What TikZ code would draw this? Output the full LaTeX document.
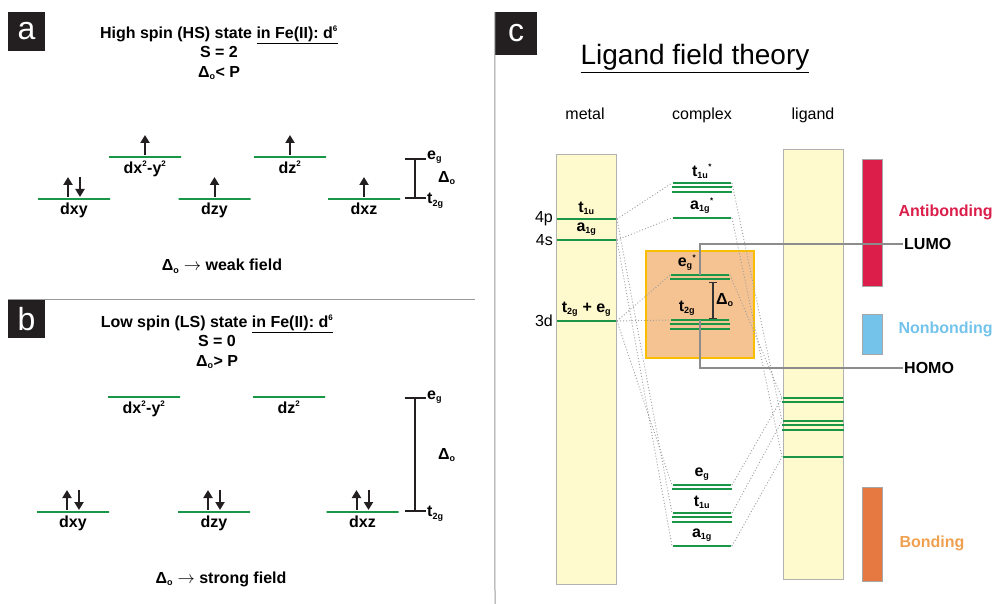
\documentclass[tikz,border=0pt]{standalone}
\usepackage{fontspec}
\setmainfont{Liberation Sans}
\usepackage{xcolor}
\usetikzlibrary{arrows.meta}

\definecolor{lvgreen}{RGB}{25,150,70}
\definecolor{tagblack}{RGB}{35,31,32}
\definecolor{colyellow}{RGB}{255,250,205}
\definecolor{peach}{RGB}{245,195,145}
\definecolor{boxgold}{RGB}{250,190,0}
\definecolor{abred}{RGB}{220,30,75}
\definecolor{nbblue}{RGB}{115,195,235}
\definecolor{bdbar}{RGB}{230,120,65}
\definecolor{bdtext}{RGB}{240,160,80}

% small sub- and superscripts
\newcommand\dsub[1]{\textsubscript{\fontsize{9}{9}\selectfont#1}}
\newcommand\dsup[1]{\textsuperscript{\fontsize{8}{8}\selectfont#1}}

\begin{document}
\begin{tikzpicture}[
  x=1pt, y={(0,-1pt)},
  font=\fontsize{16}{19.5}\selectfont,
  label distance=2pt,
  bf/.style={font=\bfseries\fontsize{16}{19.5}\selectfont},
  rg/.style={font=\fontsize{16}{19.5}\selectfont, inner sep=1pt},
  orb/.style={bf, inner sep=1pt},
  lvl/.style={draw=lvgreen, line width=2pt, minimum width=#1,
    minimum height=0pt, inner sep=0pt},
  lvl/.default=72pt,
  lvline/.style={draw=lvgreen, line width=2pt},
  spin/.style={draw=tagblack, line width=2pt,
    -{Triangle[length=8pt,width=9pt]}},
  splitbar/.style={draw=tagblack, line width=2.4pt,
    {Bar[width=21pt]}-{Bar[width=21pt]}},
  smallbar/.style={draw=black!80, line width=1.3pt,
    {Bar[width=8pt]}-{Bar[width=8pt]}},
  tagbox/.style={fill=tagblack, text=white,
    font=\fontsize{32}{32}\selectfont, inner sep=0pt},
  colbox/.style={fill=colyellow, draw=gray!60, line width=0.8pt,
    minimum width=60pt, inner sep=0pt},
  bandbar/.style={draw=gray!70, line width=0.8pt, minimum width=20pt,
    inner sep=0pt},
  corr/.style={draw=gray!75, line width=0.9pt,
    dash pattern=on 1pt off 2pt},
  moline/.style={draw=gray!90, line width=1.6pt},
  sepline/.style={draw=gray!80, line width=1pt},
]
\useasboundingbox (0,0) rectangle (994,604);

% ---- panel a: high spin
\node[tagbox, minimum width=37pt, minimum height=39pt] (taga) at (26.5,31.5) {a};
\node[bf, align=center] (hstitle) at (219,53)
  {High spin (HS) state \underline{in Fe(II): d\dsup{6}}\\S = 2\\Δ\dsub{o}< P};

\node[lvl, label={[orb]below:dxy}] (hsxy) at (74,199) {};
\node[lvl, label={[orb]below:dx\dsup{2}-y\dsup{2}}] (hsx2y2) at (145,157) {};
\node[lvl, label={[orb]below:dzy}] (hszy) at (214.5,199) {};
\node[lvl, label={[orb]below:dz\dsup{2}}] (hsz2) at (290,157) {};
\node[lvl, label={[orb]below:dxz}] (hsxz) at (364,199) {};

\foreach \o in {hsx2y2,hszy,hsz2,hsxz}
  \draw[spin] ([yshift=2pt]\o.center) -- ++(0,-20);
\draw[spin] ([xshift=-6pt,yshift=2pt]hsxy.center) -- ++(0,-20);
\draw[spin] ([xshift=6pt,yshift=22pt]hsxy.center) -- ++(0,20);

\coordinate (hstop) at (415,158);
\coordinate (hsbot) at (415,199);
\draw[splitbar] (hstop) -- (hsbot);
\node[orb, anchor=west] (hseg) at (426,157) {e\dsub{g}};
\node[orb, anchor=west] (hst2g) at (426,201) {t\dsub{2g}};
\node[orb, anchor=west] (hsdelta) at (437,178) {Δ\dsub{o}};
\node[bf] (weak) at (222,266) {Δ\dsub{o} $\rightarrow$ weak field};

\draw[sepline] (8,300) -- (475,300);

% ---- panel b: low spin
\node[tagbox, minimum width=37pt, minimum height=38pt] (tagb) at (26.5,319) {b};
\node[bf, align=center] (lstitle) at (217,342)
  {Low spin (LS) state \underline{in Fe(II): d\dsup{6}}\\S = 0\\Δ\dsub{o}> P};

\node[lvl, label={[orb]below:dx\dsup{2}-y\dsup{2}}] (lsx2y2) at (144,397) {};
\node[lvl, label={[orb]below:dz\dsup{2}}] (lsz2) at (289,397) {};
\node[lvl, label={[orb]below:dxy}] (lsxy) at (73,512) {};
\node[lvl, label={[orb]below:dzy}] (lszy) at (214,512) {};
\node[lvl, label={[orb]below:dxz}] (lsxz) at (362.5,512) {};

\foreach \o in {lsxy,lszy,lsxz} {
  \draw[spin] ([xshift=-6pt,yshift=2pt]\o.center) -- ++(0,-20);
  \draw[spin] ([xshift=6pt,yshift=22pt]\o.center) -- ++(0,20);
}

\coordinate (lstop) at (415,397);
\coordinate (lsbot) at (415,512);
\draw[splitbar] (lstop) -- (lsbot);
\node[orb, anchor=west] (lseg) at (426,397) {e\dsub{g}};
\node[orb, anchor=west] (lst2g) at (426,514) {t\dsub{2g}};
\node[orb, anchor=west] (lsdelta) at (437,455) {Δ\dsub{o}};
\node[bf] (strong) at (221,579) {Δ\dsub{o} $\rightarrow$ strong field};

% ---- panel c: ligand field theory
\node[tagbox, minimum width=42pt, minimum height=43pt] (tagc) at (516,33.5) {c};
\draw[sepline] (tagc.north west) -- (495,604);
\node[anchor=base, font=\fontsize{28}{30}\selectfont] (lft) at (695,65)
  {\underline{Ligand field theory}};

\node[rg, anchor=base] (hmetal) at (585,120) {metal};
\node[rg, anchor=base] (hcomplex) at (702,120) {complex};
\node[rg, anchor=base] (hligand) at (813,120) {ligand};

\node[colbox, minimum height=430pt] (metal) at (586,369) {};
\node[colbox, minimum height=430pt] (ligand) at (813,364) {};
\node[draw=boxgold, line width=1.8pt, fill=peach, minimum width=108pt,
      minimum height=107pt, inner sep=0pt] (cbox) at (700,304.5) {};

\node[bandbar, fill=abred, minimum height=127pt] (anti) at (872,222.5) {};
\node[bandbar, fill=nbblue, minimum height=40pt] (nonb) at (872,334) {};
\node[bandbar, fill=bdbar, minimum height=94pt] (bond) at (872,534) {};
\node[bf, text=abred, anchor=west] (antil) at (895,212) {Antibonding};
\node[bf, text=nbblue, anchor=west] (nonbl) at (895,329) {Nonbonding};
\node[bf, text=bdtext, anchor=west] (bondl) at (896,543) {Bonding};

% metal levels
\node[lvl=59pt, label={[orb]above:t\dsub{1u}}, label={[rg]left:4p}] (mt1u) at (586.5,219) {};
\node[lvl=59pt, label={[orb]above:a\dsub{1g}}, label={[rg]left:4s}] (ma1g) at (586.5,240) {};
\node[lvl=59pt, label={[orb]above:t\dsub{2g} + e\dsub{g}}, label={[rg]left:3d}] (m3d) at (586.5,321) {};

% complex levels
\node[lvl=58pt, label={[orb]above:t\dsub{1u}\dsup{*}}] (ct1us) at (702,183) {};
\node[lvl=58pt, label={[orb]above:a\dsub{1g}\dsup{*}}] (ca1gs) at (702,218) {};
\node[lvl=58pt, label={[orb, xshift=-13pt]above:e\dsub{g}\dsup{*}}] (cegs) at (700,275) {};
\node[lvl=58pt, label={[orb, xshift=-13pt]above:t\dsub{2g}}] (ct2g) at (700,320) {};
\node[lvl=58pt, label={[orb]above:e\dsub{g}}] (ceg) at (702,485) {};
\node[lvl=58pt, label={[orb]above:t\dsub{1u}}] (ct1u) at (702,513) {};
\node[lvl=58pt, label={[orb]above:a\dsub{1g}}] (ca1g) at (702,546) {};

% ligand levels
\node[lvl=60pt] (lig1) at (813,398) {};
\node[lvl=60pt] (lig2) at (813,421) {};
\node[lvl=60pt] (lig3) at (813,457) {};

% degenerate sets
\foreach \n/\k in {ct1us/2, cegs/1, ct2g/2, ceg/1, ct1u/2, lig1/1, lig2/2}
  \foreach \j in {1,...,\k}
    \draw[lvline] ([yshift={-\j*4.4pt}]\n.west) -- ([yshift={-\j*4.4pt}]\n.east);

\coordinate (cbtop) at (713,282);
\coordinate (cbbot) at (713,319);
\draw[smallbar] (cbtop) -- (cbbot);
\node[orb, anchor=west] (cdelta) at (715,300) {Δ\dsub{o}};

% correlation lines
\draw[corr] (mt1u.east) -- (ct1us.west);
\draw[corr] (ma1g.east) -- (ca1gs.west);
\draw[corr] (m3d.east) -- (cegs.west);
\draw[corr] (m3d.east) -- (ct2g.west);
\draw[corr] (mt1u.east) -- (ct1u.west);
\draw[corr] (ma1g.east) -- (ca1g.west);
\draw[corr] (m3d.east) -- (ceg.west);
\draw[corr] (ct1us.east) -- (lig2.west);
\draw[corr] (ca1gs.east) -- (lig3.west);
\draw[corr] (cegs.east) -- (lig1.west);
\draw[corr] (ceg.east) -- (lig1.west);
\draw[corr] (ct1u.east) -- (lig2.west);
\draw[corr] (ca1g.east) -- (lig3.west);

% frontier orbitals
\node[bf, anchor=west, inner sep=1pt] (lumo) at (903,244) {LUMO};
\node[bf, anchor=west, inner sep=1pt] (homo) at (903,368) {HOMO};
\draw[moline] (cegs.center) |- (lumo.west);
\draw[moline] (ct2g.center) |- (homo.west);

\end{tikzpicture}
\end{document}
